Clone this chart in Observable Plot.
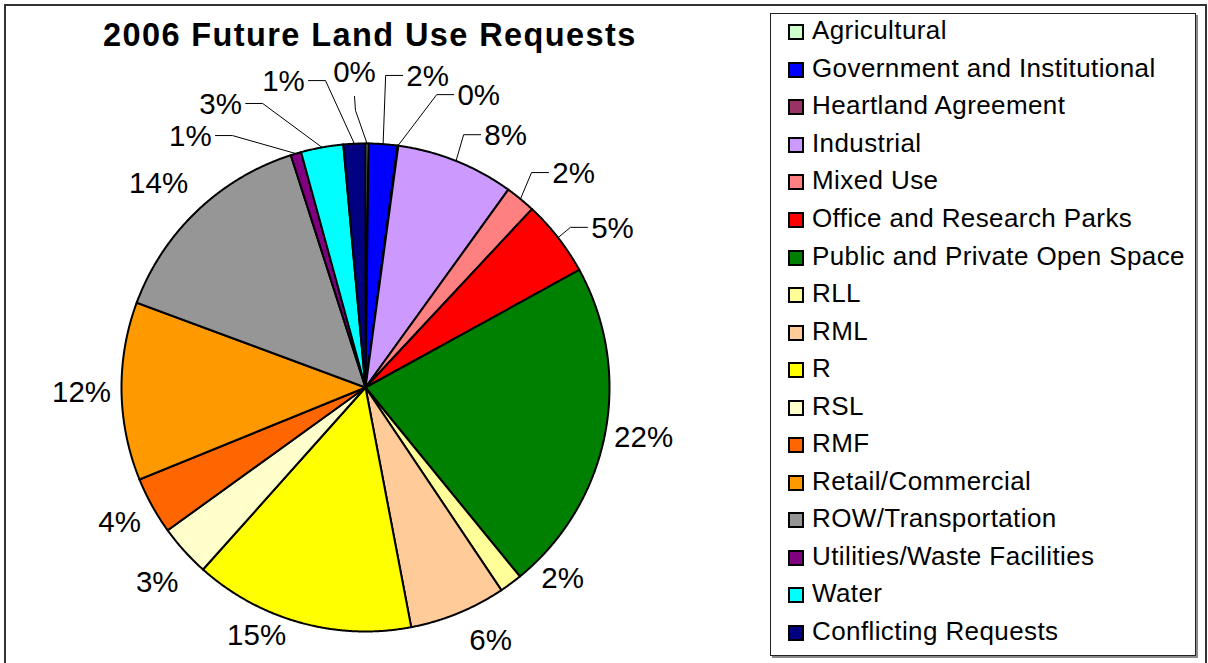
<!DOCTYPE html>
<html>
<head>
<meta charset="utf-8">
<script src="https://cdn.jsdelivr.net/npm/d3@7"></script>
<script src="https://cdn.jsdelivr.net/npm/@observablehq/plot@0.6"></script>
<style>
  html, body { margin: 0; padding: 0; background: #fff; }
  #chart { position: relative; width: 1208px; height: 663px; overflow: hidden; background: #fff;
           font-family: "Liberation Sans", Arial, sans-serif; }
  #frame { position: absolute; left: 4px; top: 4px; width: 1203px; height: 720px;
           border: 2px solid #333; box-sizing: border-box; }
  #title { position: absolute; left: 103px; top: 19px; font: bold 32.5px/32px "Liberation Sans", Arial, sans-serif;
           letter-spacing: 1.4px; white-space: nowrap; color: #000; }
  #plot { position: absolute; left: 0; top: 56px; }
  #legend { position: absolute; left: 770px; top: 13px; width: 426px; height: 643px; box-sizing: border-box;
            border: 1px solid #222; box-shadow: 2px 2px 0 #8a8a8a; padding: 0 0 0 18px; background: #fff; }
  .lg-swatches { font: 26px "Liberation Sans", Arial, sans-serif; letter-spacing: 0.4px; color: #000; margin: -2px 0 0 0; }
  .lg-swatch { height: 37.56px; padding-bottom: 0 !important; display: flex; align-items: center; white-space: nowrap; }
  .lg-swatch svg { margin-right: 9px !important; overflow: visible; stroke: #000; stroke-width: 2px; flex: none;
                   position: relative; top: 1.5px; }
</style>
</head>
<body>
<div id="chart">
  <div id="frame"></div>
  <div id="title">2006 Future Land Use Requests</div>
  <div id="plot"></div>
  <div id="legend"></div>
</div>
<script>
// ---- data (percent of requests) ----
const categories = [
  "Agricultural", "Government and Institutional", "Heartland Agreement", "Industrial",
  "Mixed Use", "Office and Research Parks", "Public and Private Open Space", "RLL",
  "RML", "R", "RSL", "RMF", "Retail/Commercial", "ROW/Transportation",
  "Utilities/Waste Facilities", "Water", "Conflicting Requests"
];
const values = [0.2, 1.9, 0.05, 7.8, 2.0, 5.05, 22.1, 1.5, 6.4, 14.6, 3.45, 3.8, 11.8, 14.4, 0.7, 2.8, 1.45];
const colors = [
  "#CCFFCC", "#0000FF", "#993366", "#CC99FF", "#FF8080", "#FF0000", "#008000", "#FFFF99",
  "#FFCC99", "#FFFF00", "#FFFFCC", "#FF6600", "#FF9900", "#969696", "#800080", "#00FFFF", "#000080"
];

// ---- layout: label placement (polar, degrees clockwise from top; distance in pie radii) ----
const labelAngle = [358, 11.3, 21.2, 29.1, 44.2, 57.2, 100.2, 134.1, 153.7, 203.7, 226.9, 241.2, 269.0, 314.6, 325.1, 332.9, 345.0];
const labelDist  = [1.292, 1.300, 1.283, 1.181, 1.223, 1.204, 1.158, 1.125, 1.157, 1.110, 1.169, 1.150, 1.164, 1.191, 1.254, 1.303, 1.298];
const leaderKind = ["v", "h", "h", "h", "h", "h", null, null, null, null, null, null, null, null, "h", "h", "h"];

const R_PX = 244;          // pie radius in pixels (x/y range spans)
const px = 1 / R_PX;       // one pixel in data units

const total = d3.sum(values);
const arcs = d3.pie().sort(null).value(d => d).startAngle(0).endAngle(2 * Math.PI)(values);

const slicePts = [];
arcs.forEach((a, i) => {
  const name = categories[i];
  slicePts.push({name, x: 0, y: 0});
  const step = Math.PI / 720;
  const n = Math.max(1, Math.ceil((a.endAngle - a.startAngle) / step));
  for (let k = 0; k <= n; ++k) {
    const t = a.startAngle + (a.endAngle - a.startAngle) * k / n;
    slicePts.push({name, x: Math.sin(t), y: Math.cos(t)});
  }
  slicePts.push({name, x: 0, y: 0});
});

const labelData = categories.map((name, i) => {
  const t = labelAngle[i] * Math.PI / 180;
  return {name, x: labelDist[i] * Math.sin(t), y: labelDist[i] * Math.cos(t),
          label: Math.round(values[i] / total * 100) + "%"};
});

const leaderPts = [];
arcs.forEach((a, i) => {
  const kind = leaderKind[i];
  if (!kind) return;
  const name = categories[i];
  const mid = (a.startAngle + a.endAngle) / 2;
  const {x: lx, y: ly} = labelData[i];
  leaderPts.push({name, x: Math.sin(mid), y: Math.cos(mid)});
  if (kind === "h") {
    const side = lx > 0 ? 1 : -1;
    leaderPts.push({name, x: lx - side * 42 * px, y: ly + 1 * px});
    leaderPts.push({name, x: lx - side * 25 * px, y: ly + 1 * px});
  } else {
    leaderPts.push({name, x: lx + 1 * px, y: ly - 38 * px});
    leaderPts.push({name, x: lx, y: ly - 24 * px});
  }
});

const chart = Plot.plot({
  width: 770,
  height: 607,
  x: {domain: [-1, 1], range: [121, 609], axis: null},
  y: {domain: [-1, 1], range: [575, 87], axis: null},
  color: {type: "ordinal", domain: categories, range: colors},
  style: {overflow: "visible", background: "transparent"},
  marks: [
    Plot.line(slicePts, {x: "x", y: "y", z: "name", fill: "name", stroke: "#000", strokeWidth: 2, strokeLinejoin: "miter", strokeMiterlimit: 2}),
    Plot.line(leaderPts, {x: "x", y: "y", z: "name", stroke: "#000", strokeWidth: 1}),
    Plot.text(labelData, {x: "x", y: "y", text: "label", fontSize: 29.5, fill: "#000",
      fontFamily: "Liberation Sans, Arial, sans-serif", textAnchor: "middle", lineAnchor: "middle"})
  ]
});
document.getElementById("plot").appendChild(chart);

const legend = chart.legend("color", {columns: 1, swatchSize: 14, className: "lg"});
document.getElementById("legend").appendChild(legend);
</script>
</body>
</html>
